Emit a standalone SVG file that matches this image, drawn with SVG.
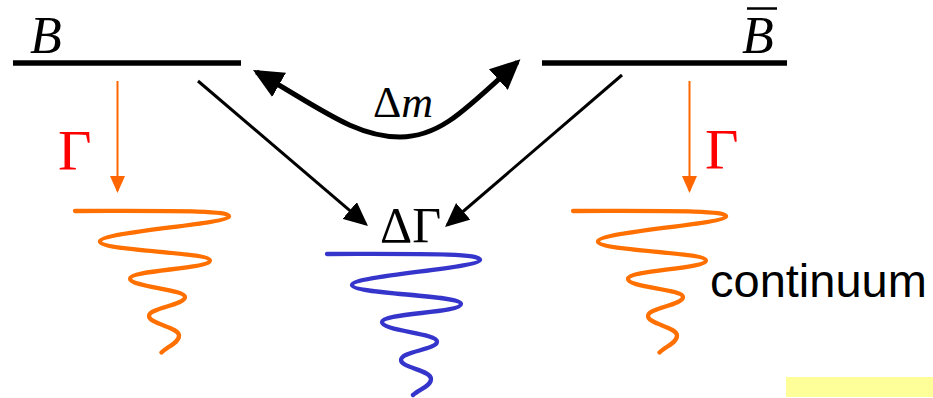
<svg xmlns="http://www.w3.org/2000/svg" width="933" height="398" viewBox="0 0 933 398">
<style>
.serif{font-family:"Liberation Serif","Times New Roman",serif;}
.sans{font-family:"Liberation Sans",Arial,sans-serif;}
.level{stroke:#000;stroke-width:5.5;fill:none;}
.decay{stroke:#FF6600;stroke-width:2;fill:none;}
.spiral{fill:none;stroke-width:4.3;stroke-linecap:round;stroke-linejoin:round;}
.thin{stroke:#000;stroke-width:3;fill:none;}
.thick{stroke:#000;stroke-width:5;fill:none;}
</style>
<defs>
<marker id="headO" markerUnits="userSpaceOnUse" markerWidth="17" markerHeight="15" refX="15" refY="7.5" orient="auto" viewBox="0 0 17 15"><path d="M0,0 L17,7.5 L0,15 z" fill="#FF6600"/></marker>
<marker id="headT" markerUnits="userSpaceOnUse" markerWidth="24" markerHeight="22" refX="21" refY="11" orient="auto" viewBox="0 0 24 22"><path d="M0,0 L24,11 L0,22 z" fill="#000"/></marker>
<marker id="headK" markerUnits="userSpaceOnUse" markerWidth="30" markerHeight="28" refX="26" refY="14" orient="auto-start-reverse" viewBox="0 0 30 28"><path d="M0,0 L30,14 L0,28 z" fill="#000"/></marker>
</defs>
<rect width="933" height="398" fill="#fff"/>
<g id="B">
<line class="level" x1="13" y1="63" x2="241" y2="63"/>
<text class="serif" x="30" y="53" font-size="52" font-style="italic">B</text>
</g>
<g id="Bbar">
<line class="level" x1="542" y1="63" x2="787" y2="63"/>
<text class="serif" x="742" y="53" font-size="52" font-style="italic">B</text>
<line x1="747" y1="8.5" x2="777" y2="8.5" stroke="#000" stroke-width="2.5"/>
</g>
<g id="continuumLeft">
<path class="spiral" stroke="#FF7000" d="M75,211 C170,211 230,210 229,216.5 C228,224 100,232 100,241.5 C100,251 210,252 210,260.5 C210,269 130,270 130,278.5 C130,287 185,289 185,297 C185,305 149,308 149,316 C149,324 179,327 179,335.5 C179,343 168,346 161.5,352.5"/>
</g>
<g id="continuumMid">
<path class="spiral" stroke="#3535CC" d="M327,254 C420,254 481,253 480,260 C479,268 352,276 352,285 C352,294 461,295 461,304 C461,313 382,313 382,322 C382,331 437,333 437,341.5 C437,350 401,351 401,360 C401,368 431,370 431,379 C431,386 420,389 413,395"/>
<text class="serif" x="380" y="242" font-size="50">ΔΓ</text>
</g>
<g id="continuumRight">
<path class="spiral" stroke="#FF7000" d="M573,211 C665,211 727,210 726,216.5 C725,224 598,232 598,241.5 C598,251 706,252 706,260.5 C706,269 628,270 628,279 C628,287.5 683,289 683,297 C683,305 648,308 648,316 C648,324 677,327 677,335.5 C677,343 666,346 659.5,352.5"/>
<text class="sans" x="710" y="297" font-size="47">continuum</text>
</g>
<g id="connectors">
<line class="decay" x1="117.5" y1="81" x2="117.5" y2="191" marker-end="url(#headO)"/>
<line class="decay" x1="689.5" y1="81" x2="689.5" y2="191" marker-end="url(#headO)"/>
<text class="serif" x="58" y="170" font-size="58" fill="#FF0000">Γ</text>
<text class="serif" x="705" y="169" font-size="58" fill="#FF0000">Γ</text>
<line class="thin" x1="198" y1="81" x2="365.7" y2="224.1" marker-end="url(#headT)"/>
<line class="thin" x1="622" y1="75" x2="447.3" y2="225" marker-end="url(#headT)"/>
<path class="thick" d="M256.5,72 C320,108 355,137 400,137 C440,137 465,110 517.5,62" marker-start="url(#headK)" marker-end="url(#headK)"/>
<text class="serif" x="373" y="117" font-size="44">Δ<tspan font-style="italic">m</tspan></text>
</g>
<rect x="786" y="377" width="147" height="20" fill="#FFFF99"/>
</svg>
